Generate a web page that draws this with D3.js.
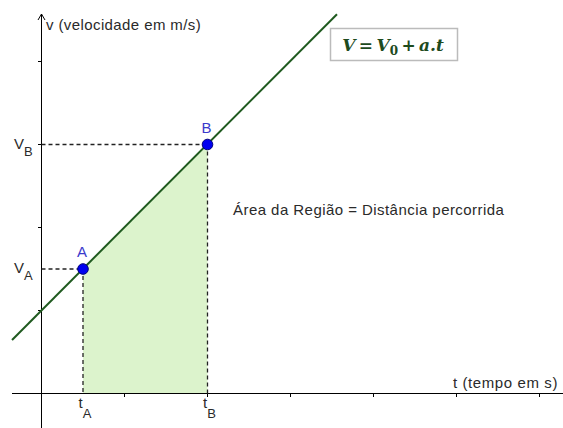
<!DOCTYPE html>
<html>
<head>
<meta charset="utf-8">
<script src="https://cdn.jsdelivr.net/npm/d3@7/dist/d3.min.js"></script>
<style>
  html, body { margin: 0; padding: 0; background: #fff; }
  svg { display: block; }
  .sans { font-family: "Liberation Sans", Arial, sans-serif; }
  .serif { font-family: "DejaVu Serif", "Liberation Serif", serif; }
</style>
</head>
<body>
<svg id="chart" width="563" height="428"></svg>
<script>
// Points on the velocity line
const pointNames = ["A", "B"];
const pointT = [0.5, 2];      // t_A, t_B
const pointV = [1.5, 3];      // V_A, V_B

// Ends of the drawn velocity line (t, v)
const lineT = [-0.355, 3.56];
const lineV = [0.645, 4.57];

// Axis ticks
const xTicks = [1, 2, 3, 4, 5, 6];
const yTicks = [1, 2, 3, 4];

const svg = d3.select("#chart");

const x = d3.scaleLinear().domain([0, 6]).range([41.5, 539.5]);
const y = d3.scaleLinear().domain([0, 4]).range([393.5, 61.5]);

// Shaded region under the line between t_A and t_B
const region = [
  [pointT[0], 0],
  [pointT[0], pointV[0]],
  [pointT[1], pointV[1]],
  [pointT[1], 0]
];
svg.append("path")
  .attr("d", d3.line().x(d => x(d[0])).y(d => y(d[1]))(region) + "Z")
  .attr("fill", "#dcf3cc")
  .attr("stroke", "none");

// Axes
const axisColor = "#000";
svg.append("line")
  .attr("x1", 12).attr("x2", 563)
  .attr("y1", y(0)).attr("y2", y(0))
  .attr("stroke", axisColor).attr("stroke-width", 1);
svg.append("line")
  .attr("x1", x(0)).attr("x2", x(0))
  .attr("y1", 428).attr("y2", 14)
  .attr("stroke", axisColor).attr("stroke-width", 1);
// arrow head on v axis
svg.append("path")
  .attr("d", `M${x(0) - 3.5},${20} L${x(0)},${14} L${x(0) + 3.5},${20}`)
  .attr("fill", "none").attr("stroke", axisColor).attr("stroke-width", 1);

svg.selectAll("line.xtick").data(xTicks).enter().append("line")
  .attr("class", "xtick")
  .attr("x1", d => x(d)).attr("x2", d => x(d))
  .attr("y1", y(0)).attr("y2", y(0) + 3.5)
  .attr("stroke", axisColor);
svg.selectAll("line.ytick").data(yTicks).enter().append("line")
  .attr("class", "ytick")
  .attr("x1", x(0) - 3.5).attr("x2", x(0))
  .attr("y1", d => y(d)).attr("y2", d => y(d))
  .attr("stroke", axisColor);

// Dashed guides from the points to the axes
const dash = "4,3";
pointT.forEach((t, i) => {
  svg.append("line")
    .attr("x1", x(0)).attr("x2", x(t))
    .attr("y1", y(pointV[i])).attr("y2", y(pointV[i]))
    .attr("stroke", "#222").attr("stroke-width", 1.3)
    .attr("stroke-dasharray", dash);
  svg.append("line")
    .attr("x1", x(t)).attr("x2", x(t))
    .attr("y1", y(pointV[i])).attr("y2", y(0))
    .attr("stroke", "#222").attr("stroke-width", 1.3)
    .attr("stroke-dasharray", dash);
});

// Velocity line
svg.append("line")
  .attr("x1", x(lineT[0])).attr("y1", y(lineV[0]))
  .attr("x2", x(lineT[1])).attr("y2", y(lineV[1]))
  .attr("stroke", "#1f5a1f").attr("stroke-width", 2);

// Points
svg.selectAll("circle.pt").data(pointT).enter().append("circle")
  .attr("class", "pt")
  .attr("cx", d => x(d))
  .attr("cy", (d, i) => y(pointV[i]))
  .attr("r", 5.3)
  .attr("fill", "#0000f0")
  .attr("stroke", "#00007a").attr("stroke-width", 1);

svg.selectAll("text.ptlabel").data(pointNames).enter().append("text")
  .attr("class", "ptlabel sans")
  .attr("x", (d, i) => x(pointT[i]) - 1)
  .attr("y", (d, i) => y(pointV[i]) - 12)
  .attr("text-anchor", "middle")
  .attr("font-size", 15)
  .attr("fill", "#3a3acc")
  .text(d => d);

// Subscripted axis labels
const txtColor = "#2a2a2a";
pointNames.forEach((n, i) => {
  const vt = svg.append("text")
    .attr("class", "sans")
    .attr("x", 14).attr("y", y(pointV[i]) + 4)
    .attr("font-size", 15).attr("fill", txtColor);
  vt.append("tspan").text("V");
  vt.append("tspan").attr("dy", 7).attr("font-size", 13).text(n);

  const tt = svg.append("text")
    .attr("class", "sans")
    .attr("x", x(pointT[i]) - 4.5).attr("y", 408)
    .attr("font-size", 15).attr("fill", txtColor);
  tt.append("tspan").text("t");
  tt.append("tspan").attr("dy", 10).attr("font-size", 13).text(n);
});

// Axis titles
svg.append("text")
  .attr("class", "sans")
  .attr("x", 46).attr("y", 30)
  .attr("font-size", 15).attr("letter-spacing", 0.4).attr("fill", txtColor)
  .text("v (velocidade em m/s)");
svg.append("text")
  .attr("class", "sans")
  .attr("x", 558).attr("y", 388)
  .attr("text-anchor", "end")
  .attr("font-size", 15).attr("letter-spacing", 0.6).attr("fill", txtColor)
  .text("t (tempo em s)");

// Annotation
svg.append("text")
  .attr("class", "sans")
  .attr("x", 233).attr("y", 215)
  .attr("font-size", 15).attr("letter-spacing", 0.45).attr("fill", txtColor)
  .text("Área da Região = Distância percorrida");

// Formula box
svg.append("rect")
  .attr("x", 330.5).attr("y", 28.5)
  .attr("width", 127).attr("height", 32)
  .attr("fill", "#fff")
  .attr("stroke", "#bbb").attr("stroke-width", 1.5);
const f = svg.append("text")
  .attr("class", "serif")
  .attr("x", 393).attr("y", 51)
  .attr("text-anchor", "middle")
  .attr("font-size", 17)
  .attr("font-weight", "bold")
  .attr("fill", "#1d4a1d");
f.append("tspan").attr("font-style", "italic").text("V");
f.append("tspan").text("\u2009=\u2009");
f.append("tspan").attr("font-style", "italic").text("V");
f.append("tspan").attr("dy", 4).attr("font-size", 12).text("0");
f.append("tspan").attr("dy", -4).text("\u2009+\u2009");
f.append("tspan").attr("font-style", "italic").text("a.t");
</script>
</body>
</html>
